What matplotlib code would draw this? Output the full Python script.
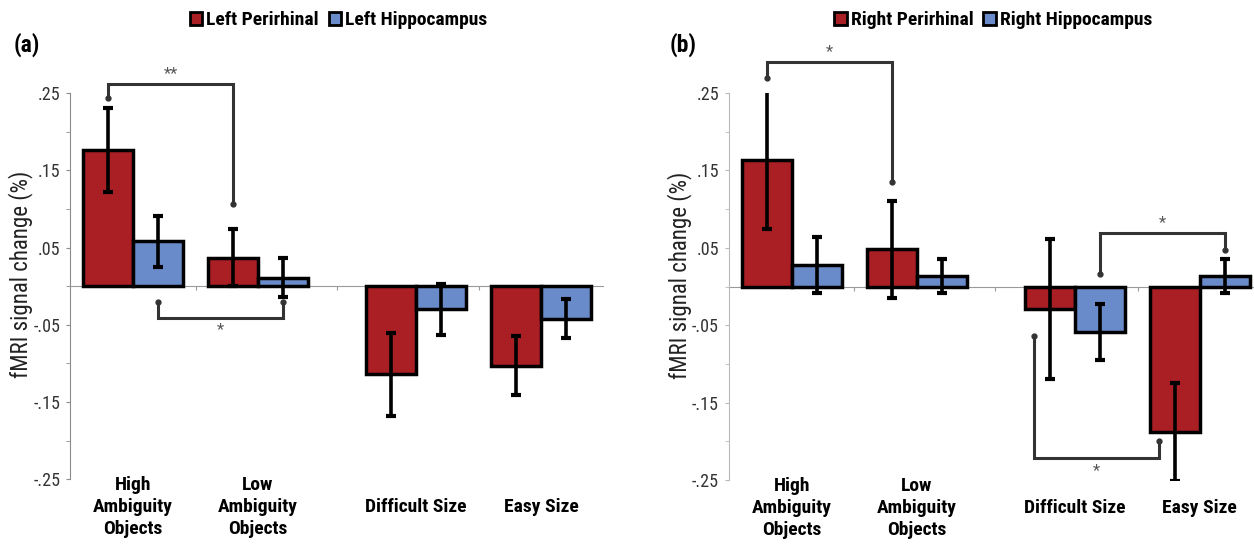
import matplotlib
matplotlib.use('Agg')
import matplotlib.pyplot as plt
from matplotlib import font_manager
from matplotlib.patches import Patch
from matplotlib.transforms import blended_transform_factory

# pick a condensed face if one is installed (the original uses a condensed Myriad-like font)
fonts = font_manager.fontManager.ttflist
narrow_family = None
for cand in ['Liberation Sans Narrow', 'Roboto Condensed', 'Noto Sans', 'Open Sans', 'DejaVu Sans']:
    if any(f.name == cand and (f.stretch in ('condensed', 'semi-condensed', 'extra-condensed')
                               or 'Narrow' in f.name or 'Condensed' in f.name) for f in fonts):
        narrow_family = cand
        break
if narrow_family is not None:
    plt.rcParams['font.family'] = [narrow_family, 'DejaVu Sans']
    plt.rcParams['font.stretch'] = 'condensed'
    fs = 1.0
else:
    plt.rcParams['font.family'] = ['Liberation Sans', 'DejaVu Sans']
    fs = 0.85

# data
conditions = ["High\nAmbiguity\nObjects", "Low\nAmbiguity\nObjects", "Difficult Size", "Easy Size"]
group_pos = [0.0, 1.0, 2.265, 3.265]
separators = [0.5, 1.63, 2.77, 3.76]

left_peri = [0.176, 0.037, -0.114, -0.103]
left_peri_err = [0.054, 0.037, 0.054, 0.038]
left_hippo = [0.058, 0.011, -0.030, -0.042]
left_hippo_err = [0.033, 0.025, 0.033, 0.025]

right_peri = [0.164, 0.048, -0.029, -0.188]
right_peri_err = [0.090, 0.063, 0.090, 0.063]
right_hippo = [0.028, 0.014, -0.059, 0.014]
right_hippo_err = [0.036, 0.022, 0.036, 0.022]

# significance brackets: (x1, x2, y_end1, y_end2, y_bar, star, star_y)
left_sig = [
    (-0.2, 0.8, 0.243, 0.106, 0.262, "**", 0.275),
    (0.2, 1.2, -0.020, -0.020, -0.041, "*", -0.056),
]
right_sig = [
    (-0.2, 0.8, 0.270, 0.135, 0.290, "*", 0.304),
    (2.465, 3.465, 0.016, 0.047, 0.069, "*", 0.082),
    (1.94, 2.94, -0.064, -0.200, -0.221, "*", -0.238),
]

RED = '#a91f24'
BLUE = '#6a8bc9'
BAR_W = 0.4


def draw_panel(ax, peri, peri_err, hippo, hippo_err, sig, xmax, spine_color):
    xp = [p - BAR_W / 2 for p in group_pos]
    xh = [p + BAR_W / 2 for p in group_pos]
    ax.bar(xp, peri, width=BAR_W, color=RED, edgecolor='black', linewidth=2.5, zorder=2)
    ax.bar(xh, hippo, width=BAR_W, color=BLUE, edgecolor='black', linewidth=2.5, zorder=2)
    ax.errorbar(xp, peri, yerr=peri_err, fmt='none', ecolor='black', elinewidth=2.6,
                capsize=3.5, capthick=3, zorder=3)
    ax.errorbar(xh, hippo, yerr=hippo_err, fmt='none', ecolor='black', elinewidth=2.6,
                capsize=3.5, capthick=3, zorder=3)

    ax.set_xlim(-0.504, xmax)
    ax.set_ylim(-0.25, 0.25)
    for s in ['top', 'right']:
        ax.spines[s].set_visible(False)
    ax.spines['bottom'].set_position(('data', 0))
    ax.spines['bottom'].set_color('#9a9a9a')
    ax.spines['bottom'].set_zorder(1)
    ax.spines['left'].set_color(spine_color)
    ax.set_xticks([s for s in separators if s < xmax])
    ax.tick_params(axis='x', length=3, color='#9a9a9a', labelbottom=False)
    ax.set_yticks([0.25, 0.15, 0.05, -0.05, -0.15, -0.25])
    ax.set_yticklabels(['.25', '.15', '.05', '-.05', '-.15', '-.25'])
    ax.set_yticks([0.2, 0.1, 0.0, -0.1, -0.2], minor=True)
    ax.tick_params(axis='y', which='both', length=3, color=spine_color, labelsize=13 * fs,
                   labelcolor='#333333', pad=4)
    ax.set_ylabel("fMRI signal change (%)", fontsize=16.5 * fs, color='#222222')
    ax.yaxis.set_label_coords(-0.07, 0.53)

    trans = blended_transform_factory(ax.transData, ax.transAxes)
    for p, lab in zip(group_pos, conditions):
        ax.text(p, -0.072, lab, transform=trans, ha='center', va='center',
                fontsize=14 * fs, fontweight='bold', linespacing=1.3, color='black')

    for x1, x2, e1, e2, yb, star, sy in sig:
        ax.plot([x1, x1, x2, x2], [e1, yb, yb, e2], color='#333333', lw=2.2,
                clip_on=False, zorder=4, solid_joinstyle='miter')
        ax.plot([x1, x2], [e1, e2], 'o', color='#333333', ms=3.5, clip_on=False, zorder=4)
        ax.text((x1 + x2) / 2, sy, star, ha='center', va='center', fontsize=12,
                color='#555555')


fig = plt.figure(figsize=(12.54, 5.48), dpi=100)
ax_a = fig.add_axes([70 / 1254, 68.7 / 548, 533 / 1254, 386.3 / 548])
ax_b = fig.add_axes([728.7 / 1254, 68 / 548, 525.3 / 1254, 387 / 548])

draw_panel(ax_a, left_peri, left_peri_err, left_hippo, left_hippo_err, left_sig, 3.76, '#8c8c8c')
draw_panel(ax_b, right_peri, right_peri_err, right_hippo, right_hippo_err, right_sig, 3.70, '#b8b8b8')

for ax, side, cx in [(ax_a, "Left", 0.27), (ax_b, "Right", 0.792)]:
    handles = [Patch(facecolor=RED, edgecolor='black', linewidth=2),
               Patch(facecolor=BLUE, edgecolor='black', linewidth=2)]
    fig.legend(handles, ["{} Perirhinal".format(side), "{} Hippocampus".format(side)],
               loc='center', bbox_to_anchor=(cx, 1 - 20 / 548), ncol=2, frameon=False,
               handlelength=0.65, handleheight=0.65, handletextpad=0.2, columnspacing=0.5,
               borderaxespad=0, prop={'weight': 'bold', 'size': 14 * fs})

fig.text(14 / 1254, 1 - 45 / 548, "(a)", fontsize=17 * fs, fontweight='bold', va='center')
fig.text(670 / 1254, 1 - 45 / 548, "(b)", fontsize=17 * fs, fontweight='bold', va='center')

fig.savefig('out.png', dpi=100)
